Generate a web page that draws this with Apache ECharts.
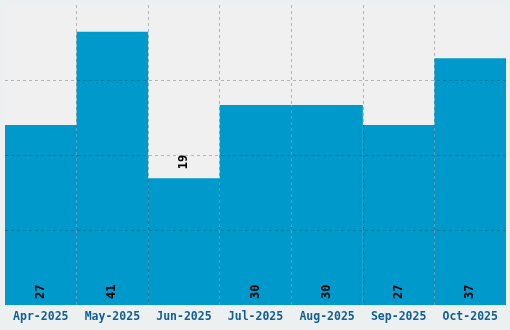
<!DOCTYPE html>
<html><head><meta charset="utf-8">
<script src="https://cdn.jsdelivr.net/npm/echarts@6/dist/echarts.min.js"></script>
<style>html,body{margin:0;padding:0;background:#edf0f1}#c{width:510px;height:330px}</style>
</head><body><div id="c"></div>
<script>
const categories = ['Apr-2025','May-2025','Jun-2025','Jul-2025','Aug-2025','Sep-2025','Oct-2025'];
const values = [27, 41, 19, 30, 30, 27, 37];
const labelOutside = ['Jun-2025'];

const chart = echarts.init(document.getElementById('c'));
const mono = "'DejaVu Sans Mono', monospace";
chart.setOption({
  backgroundColor: '#edf0f1',
  animation: false,
  grid: { left: 5, right: 4, top: 5, bottom: 25, show: true, backgroundColor: '#f0f0f0', borderWidth: 0 },
  xAxis: {
    type: 'category', data: categories, z: 5,
    axisLine: { show: false }, axisTick: { show: false },
    axisLabel: { interval: 0, color: '#105f96', fontFamily: mono, fontWeight: 'bold', fontSize: 11.5, margin: 6 },
    splitLine: { show: true, interval: 0, showMinLine: false, showMaxLine: false,
      lineStyle: { color: 'rgba(0,0,0,0.25)', type: [3, 3], width: 1 } }
  },
  yAxis: {
    type: 'value', min: 0, max: 45, interval: 11.25, z: 5,
    axisLine: { show: false }, axisTick: { show: false }, axisLabel: { show: false },
    splitLine: { show: true, showMinLine: false, showMaxLine: false,
      lineStyle: { color: 'rgba(0,0,0,0.25)', type: [3, 3], width: 1 } }
  },
  series: [{
    type: 'bar', barCategoryGap: 0, z: 1,
    itemStyle: { color: '#0099cc' },
    data: values.map((v, i) => {
      const outside = labelOutside.includes(categories[i]);
      return {
        value: v,
        label: outside
          ? { position: 'top', distance: 9, rotate: 90, align: 'left', verticalAlign: 'middle' }
          : { position: 'insideBottom', distance: 6, rotate: 90, align: 'left', verticalAlign: 'middle' }
      };
    }),
    label: { show: true, color: '#000', fontFamily: mono, fontWeight: 'bold', fontSize: 12 }
  }]
});
</script></body></html>
